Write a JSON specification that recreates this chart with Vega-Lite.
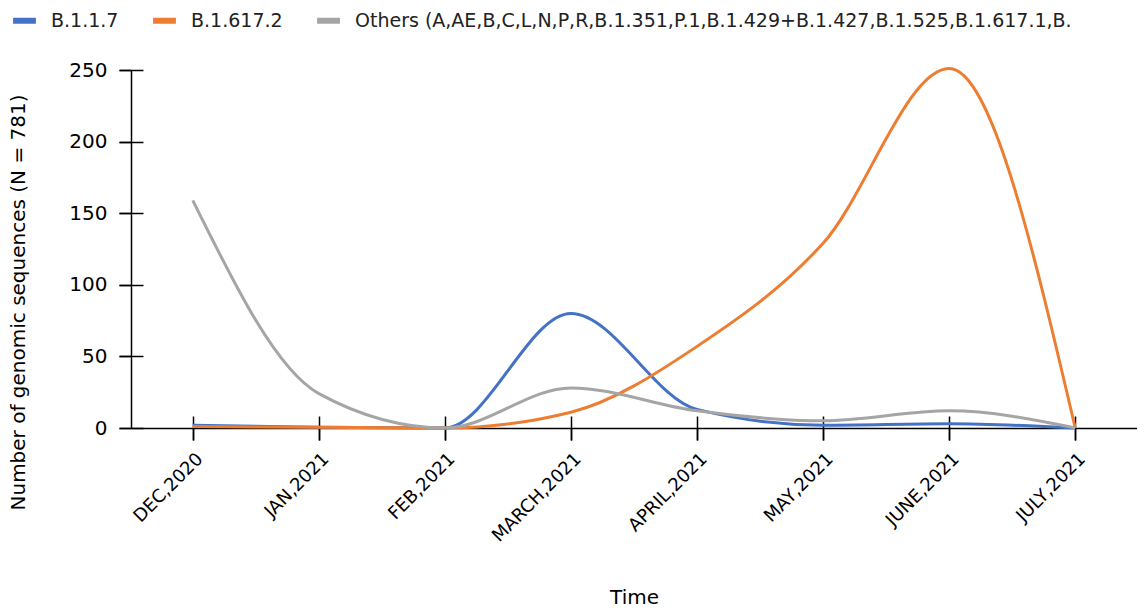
{
  "$schema": "https://vega.github.io/schema/vega-lite/v6.json",
  "width": 1006,
  "height": 358,
  "autosize": "none",
  "padding": {"left": 131, "top": 70, "right": 0, "bottom": 184},
  "background": "white",
  "config": {"view": {"stroke": null}, "font": "DejaVu Sans"},
  "data": {"values": [
    {"month": "DEC,2020", "series": "B.1.1.7", "n": 2},
    {"month": "JAN,2021", "series": "B.1.1.7", "n": 0.5},
    {"month": "FEB,2021", "series": "B.1.1.7", "n": 0},
    {"month": "MARCH,2021", "series": "B.1.1.7", "n": 80},
    {"month": "APRIL,2021", "series": "B.1.1.7", "n": 13},
    {"month": "MAY,2021", "series": "B.1.1.7", "n": 2},
    {"month": "JUNE,2021", "series": "B.1.1.7", "n": 3},
    {"month": "JULY,2021", "series": "B.1.1.7", "n": 0},
    {"month": "DEC,2020", "series": "B.1.617.2", "n": 1},
    {"month": "JAN,2021", "series": "B.1.617.2", "n": 0.5},
    {"month": "FEB,2021", "series": "B.1.617.2", "n": 0},
    {"month": "MARCH,2021", "series": "B.1.617.2", "n": 11},
    {"month": "APRIL,2021", "series": "B.1.617.2", "n": 57},
    {"month": "MAY,2021", "series": "B.1.617.2", "n": 129},
    {"month": "JUNE,2021", "series": "B.1.617.2", "n": 251},
    {"month": "JULY,2021", "series": "B.1.617.2", "n": 0},
    {"month": "DEC,2020", "series": "Others (A,AE,B,C,L,N,P,R,B.1.351,P.1,B.1.429+B.1.427,B.1.525,B.1.617.1,B.", "n": 159},
    {"month": "JAN,2021", "series": "Others (A,AE,B,C,L,N,P,R,B.1.351,P.1,B.1.429+B.1.427,B.1.525,B.1.617.1,B.", "n": 24},
    {"month": "FEB,2021", "series": "Others (A,AE,B,C,L,N,P,R,B.1.351,P.1,B.1.429+B.1.427,B.1.525,B.1.617.1,B.", "n": 0},
    {"month": "MARCH,2021", "series": "Others (A,AE,B,C,L,N,P,R,B.1.351,P.1,B.1.429+B.1.427,B.1.525,B.1.617.1,B.", "n": 28},
    {"month": "APRIL,2021", "series": "Others (A,AE,B,C,L,N,P,R,B.1.351,P.1,B.1.429+B.1.427,B.1.525,B.1.617.1,B.", "n": 12},
    {"month": "MAY,2021", "series": "Others (A,AE,B,C,L,N,P,R,B.1.351,P.1,B.1.429+B.1.427,B.1.525,B.1.617.1,B.", "n": 5},
    {"month": "JUNE,2021", "series": "Others (A,AE,B,C,L,N,P,R,B.1.351,P.1,B.1.429+B.1.427,B.1.525,B.1.617.1,B.", "n": 12},
    {"month": "JULY,2021", "series": "Others (A,AE,B,C,L,N,P,R,B.1.351,P.1,B.1.429+B.1.427,B.1.525,B.1.617.1,B.", "n": 0}
  ]},
  "resolve": {"axis": {"x": "independent", "y": "independent"}},
  "layer": [
    {
      "mark": {"type": "line", "interpolate": "monotone", "strokeWidth": 0, "opacity": 0},
      "encoding": {
        "x": {
          "field": "month", "type": "ordinal", "sort": null,
          "scale": {"type": "point", "padding": 0.49},
          "axis": {"orient": "bottom", "title": null, "labels": false, "domain": false, "tickSize": 24, "offset": -12, "tickColor": "#000", "tickWidth": 1.5}
        },
        "y": {
          "field": "n", "type": "quantitative",
          "scale": {"domain": [0, 250], "nice": false},
          "axis": {"orient": "left", "title": null, "labels": false, "domain": false, "tickSize": 24, "offset": -12, "tickColor": "#000", "tickWidth": 1.5, "values": [0, 50, 100, 150, 200, 250], "grid": false}
        },
        "color": {"field": "series", "type": "nominal", "sort": null}
      }
    },
    {
      "mark": {"type": "line", "interpolate": "monotone", "strokeWidth": 3, "clip": false},
      "encoding": {
        "x": {
          "field": "month", "type": "ordinal", "sort": null,
          "scale": {"type": "point", "padding": 0.49},
          "axis": {
            "orient": "bottom",
            "title": "Time", "titleFontSize": 20, "titleFontWeight": "normal", "titleColor": "#000", "titlePadding": 42,
            "labelAngle": -45, "labelAlign": "right", "labelBaseline": "middle", "labelFontSize": 18, "labelColor": "#000",
            "labelPadding": 16, "labelOffset": 7, "tickSize": 12, "tickColor": "#000", "domainColor": "#000", "tickWidth": 1.5, "domainWidth": 1.5
          }
        },
        "y": {
          "field": "n", "type": "quantitative",
          "scale": {"domain": [0, 250], "nice": false},
          "axis": {
            "orient": "left",
            "title": "Number of genomic sequences (N = 781)", "titleFontSize": 20, "titleFontWeight": "normal", "titleColor": "#000", "titlePadding": 40, "titleY": 232,
            "values": [0, 50, 100, 150, 200, 250], "labelFontSize": 20, "labelColor": "#000", "labelPadding": 12,
            "tickSize": 12, "tickColor": "#000", "domainColor": "#000", "tickWidth": 1.5, "domainWidth": 1.5, "grid": false
          }
        },
        "color": {
          "field": "series", "type": "nominal", "sort": null,
          "scale": {"range": ["#4472C4", "#ED7D31", "#A5A5A5"]},
          "legend": {
            "title": null, "orient": "none", "direction": "horizontal", "legendX": -121, "legendY": -64,
            "symbolType": "stroke", "symbolSize": 520, "symbolStrokeWidth": 6, "labelFontSize": 19, "labelColor": "#222",
            "labelOffset": 12, "columnPadding": 22, "labelLimit": 900
          }
        }
      }
    }
  ]
}
